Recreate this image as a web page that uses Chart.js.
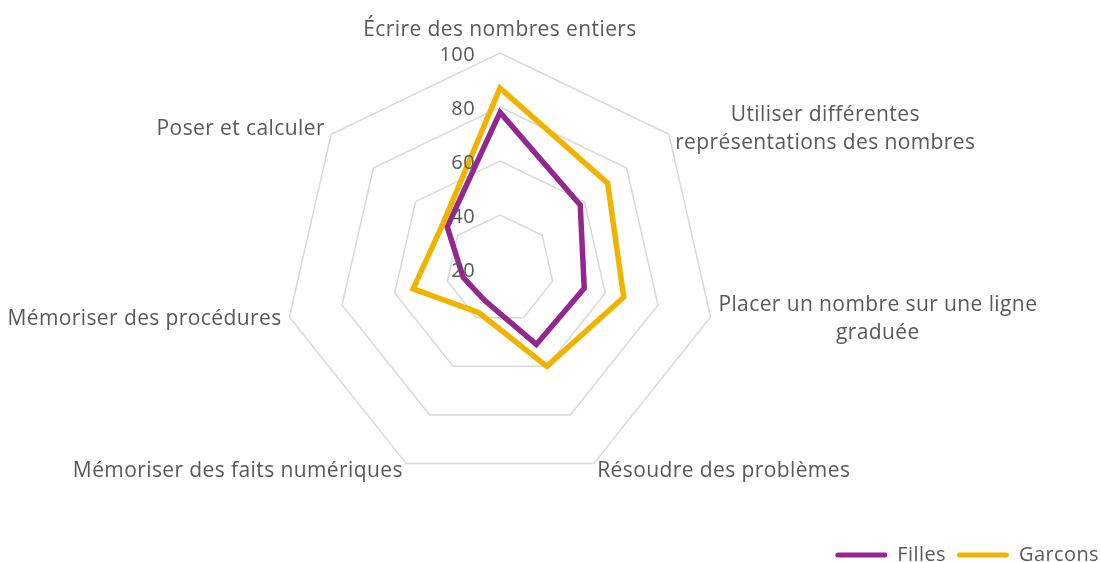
<!DOCTYPE html>
<html lang="fr">
<head>
<meta charset="UTF-8">
<title>Radar</title>
<script src="https://cdn.jsdelivr.net/npm/chart.js"></script>
<style>
  html, body { margin: 0; padding: 0; background: #fff; }
  #wrap { width: 1101px; height: 562px; }
</style>
</head>
<body>
<div id="wrap"><canvas id="myChart"></canvas></div>
<script>
const labels = [
    'Écrire des nombres entiers',
    ['Utiliser différentes', 'représentations des nombres'],
    ['Placer un nombre sur une ligne', 'graduée'],
    'Résoudre des problèmes',
    'Mémoriser des faits numériques',
    'Mémoriser des procédures',
    'Poser et calculer'
];
const filles = [78, 58, 52, 51, 33, 34, 45];
const garcons = [87, 71, 67, 60, 38, 53, 47];
const tickValues = [20, 40, 60, 80, 100];

const FONT = '"Open Sans", sans-serif';
const GREY = '#595959';

// slightly wider text, closer to the original font
const spacingPlugin = {
    id: 'spacingPlugin',
    beforeLayout(chart) { chart.ctx.letterSpacing = '0.4px'; },
    beforeDraw(chart) { chart.ctx.letterSpacing = '0.4px'; }
};

// point labels: centered lines, placed next to each vertex
const pointLabelPlugin = {
    id: 'pointLabelPlugin',
    afterDatasetsDraw(chart) {
        const scale = chart.scales.r;
        const ctx = chart.ctx;
        ctx.save();
        ctx.font = '21px ' + FONT;
        ctx.fillStyle = GREY;
        ctx.textAlign = 'center';
        ctx.textBaseline = 'middle';
        const lineH = 28;
        labels.forEach((lab, i) => {
            const lines = Array.isArray(lab) ? lab : [lab];
            const w = Math.max(...lines.map(l => ctx.measureText(l).width));
            const h = lines.length * lineH;
            const pos = scale.getPointPosition(i, scale.drawingArea + 8);
            const deg = (i * 360 / labels.length);
            let cx, cy;
            if (deg === 0) {
                cx = pos.x;
                cy = pos.y - 1 - h / 2;
            } else if (deg < 180) {
                cx = pos.x + w / 2;
                cy = pos.y;
            } else {
                cx = pos.x - w / 2;
                cy = pos.y;
            }
            lines.forEach((l, k) => {
                ctx.fillText(l, cx, cy - h / 2 + lineH / 2 + k * lineH);
            });
        });
        ctx.restore();
    }
};

// tick labels left of the vertical axis
const tickLabelPlugin = {
    id: 'tickLabelPlugin',
    afterDatasetsDraw(chart) {
        const scale = chart.scales.r;
        const ctx = chart.ctx;
        ctx.save();
        ctx.font = '20px ' + FONT;
        ctx.fillStyle = GREY;
        ctx.textAlign = 'right';
        ctx.textBaseline = 'middle';
        tickValues.forEach(v => {
            const y = scale.yCenter - scale.getDistanceFromCenterForValue(v);
            ctx.fillText(String(v), scale.xCenter - 25, y + 2);
        });
        ctx.restore();
    }
};

const ctx = document.getElementById('myChart').getContext('2d');
const myChart = new Chart(ctx, {
    type: 'radar',
    data: {
        labels: labels,
        datasets: [{
            label: 'Filles',
            data: filles,
            borderColor: '#93278F',
            backgroundColor: '#93278F',
            borderWidth: 5.5,
            fill: false,
            pointRadius: 0,
            order: 2
        }, {
            label: 'Garcons',
            data: garcons,
            borderColor: '#F0B400',
            backgroundColor: '#F0B400',
            borderWidth: 5.5,
            fill: false,
            pointRadius: 0,
            order: 1
        }]
    },
    options: {
        responsive: true,
        maintainAspectRatio: false,
        animation: false,
        layout: { padding: { bottom: -13, right: -9 } },
        elements: { line: { borderJoinStyle: 'miter', tension: 0 } },
        scales: {
            r: {
                min: 20,
                max: 100,
                ticks: { stepSize: 20, display: false },
                pointLabels: { display: false },
                angleLines: { display: false },
                grid: { color: '#D9D9D9', lineWidth: 1.5 },
                afterFit(scale) {
                    scale.xCenter = 500;
                    scale.yCenter = 269;
                    scale.drawingArea = 216;
                }
            }
        },
        plugins: {
            tooltip: { enabled: false },
            legend: {
                position: 'bottom',
                align: 'end',
                labels: {
                    color: GREY,
                    font: { family: FONT, size: 20 },
                    boxWidth: 52,
                    boxHeight: 5,
                    useBorderRadius: true,
                    borderRadius: 2.5,
                    padding: 11,
                    generateLabels(chart) {
                        const items = Chart.defaults.plugins.legend.labels.generateLabels(chart);
                        items.forEach(it => {
                            it.fillStyle = it.strokeStyle;
                            it.lineWidth = 0;
                        });
                        items.sort((a, b) => a.datasetIndex - b.datasetIndex);
                        return items;
                    }
                }
            }
        }
    },
    plugins: [spacingPlugin, pointLabelPlugin, tickLabelPlugin]
});
</script>
</body>
</html>
